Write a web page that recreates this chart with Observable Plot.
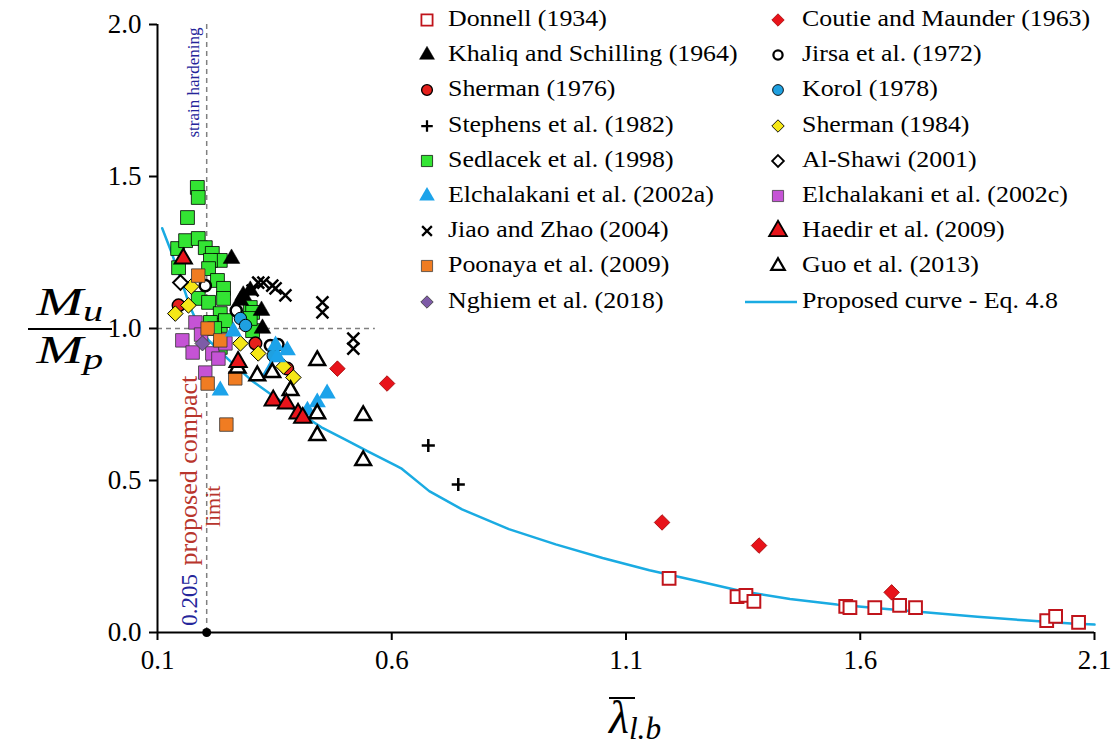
<!DOCTYPE html>
<html><head><meta charset="utf-8">
<script src="https://cdn.jsdelivr.net/npm/d3@7"></script>
<script src="https://cdn.jsdelivr.net/npm/@observablehq/plot@0.6"></script>
<style>
body{margin:0;background:#fff;}
#wrap{position:relative;width:1113px;height:753px;color:#000;overflow:hidden;}
#wrap, #wrap div, #wrap span, #wrap svg, #wrap text{font-family:"Liberation Serif","Times New Roman",serif !important;}
.lt{position:absolute;height:30px;line-height:30px;font-size:22.5px;white-space:nowrap;transform:scaleX(1.15);transform-origin:0 50%;}
.ls{position:absolute;}
.frac{position:absolute;left:28px;width:84px;text-align:center;font-style:italic;font-size:40px;line-height:40px;white-space:nowrap;}
.frac span.in{display:inline-block;transform:scaleX(1.4);transform-origin:50% 50%;}
.frac .sb{font-size:0.72em;position:relative;top:0.22em;}
#fline{position:absolute;left:28px;top:328px;width:84px;height:0;border-top:2px solid #000;}
#xlab{position:absolute;left:609px;top:698px;font-style:italic;font-size:46px;line-height:40px;white-space:nowrap;}
#xlab .sb{font-size:0.68em;position:relative;top:0.2em;line-height:20px;}
#xbar{position:absolute;left:609px;top:697px;width:26px;height:0;border-top:2px solid #000;}
</style></head><body><div id="wrap"></div>
<script>
// ---- data: [lambda, Mu/Mp] ----
const donnell = [[1.192,0.178],[1.337,0.118],[1.356,0.122],[1.373,0.102],[1.569,0.086],[1.578,0.082],[1.631,0.082],[1.684,0.089],[1.718,0.082],[1.998,0.039],[2.017,0.053],[2.066,0.033]];
const coutie = [[0.484,0.868],[0.590,0.819],[1.177,0.362],[1.384,0.286],[1.667,0.132]];
const khaliq = [[0.258,1.230],[0.277,1.092],[0.283,1.109],[0.298,1.125],[0.322,1.059],[0.324,1.000]];
const jirsa = [[0.202,1.141],[0.268,1.059],[0.341,0.944],[0.357,0.947]];
const sherman76 = [[0.145,1.076],[0.309,0.951],[0.377,0.868]];
const korol = [[0.277,1.033],[0.288,1.010],[0.347,0.911]];
const stephens = [[0.678,0.615],[0.742,0.487]];
const sherman84 = [[0.138,1.049],[0.166,1.076],[0.172,1.138],[0.277,0.951],[0.315,0.918],[0.369,0.875],[0.390,0.839]];
const sedlacek = [[0.185,1.464],[0.187,1.431],[0.164,1.365],[0.143,1.263],[0.160,1.289],[0.187,1.296],[0.202,1.266],[0.217,1.247],[0.234,1.224],[0.213,1.224],[0.209,1.197],[0.145,1.200],[0.228,1.158],[0.241,1.132],[0.241,1.099],[0.187,1.099],[0.209,1.086],[0.298,1.069],[0.234,1.049],[0.234,1.010],[0.303,1.053],[0.303,0.993],[0.298,1.033],[0.213,1.020],[0.245,1.026],[0.234,0.938],[0.222,1.000]];
const alshawi = [[0.149,1.151]];
const elch2002a = [[0.234,0.796],[0.262,0.990],[0.341,0.862],[0.352,0.944],[0.356,0.905],[0.377,0.928],[0.420,0.730],[0.441,0.757],[0.462,0.786]];
const elch2002c = [[0.153,0.961],[0.175,0.921],[0.181,1.020],[0.193,0.980],[0.202,0.855],[0.217,0.918],[0.230,0.901],[0.245,0.951]];
const jiao = [[0.303,1.125],[0.315,1.151],[0.326,1.151],[0.345,1.141],[0.352,1.132],[0.373,1.109],[0.452,1.086],[0.452,1.053],[0.518,0.967],[0.518,0.934]];
const haedir = [[0.155,1.230],[0.272,0.890],[0.347,0.763],[0.375,0.753],[0.400,0.720],[0.410,0.706]];
const poonaya = [[0.187,1.174],[0.207,1.000],[0.234,0.961],[0.207,0.819],[0.266,0.836],[0.247,0.684]];
const guo = [[0.271,0.870],[0.313,0.845],[0.345,0.855],[0.384,0.796],[0.441,0.895],[0.441,0.720],[0.441,0.648],[0.539,0.714],[0.539,0.566]];
const nghiem = [[0.196,0.951]];
const curveX = [0.11,0.13,0.15,0.17,0.19,0.21,0.25,0.30,0.35,0.40,0.45,0.50,0.55,0.61,0.62,0.68,0.75,0.85,0.95,1.05,1.15,1.25,1.35,1.45,1.55,1.65,1.75,1.85,1.95,2.05,2.10];
const curveY = [1.33,1.25,1.16,1.07,1.00,0.96,0.90,0.83,0.775,0.725,0.675,0.635,0.595,0.548,0.540,0.465,0.405,0.340,0.290,0.245,0.205,0.170,0.135,0.110,0.092,0.078,0.065,0.052,0.040,0.030,0.026];
const xTicks = [0.1,0.6,1.1,1.6,2.1];
const yTicks = [0,0.5,1.0,1.5,2.0];
const compactLimit = 0.205;
const notes = [
  {text:"strain hardening", x:0.177, y:1.99, anchor:"end", color:"#25259a", size:17},
  {text:"proposed compact", x:0.166, y:0.22, anchor:"start", color:"#b8352c", size:26},
  {text:"limit", x:0.219, y:0.415, anchor:"middle", color:"#b8352c", size:22},
  {text:"0.205", x:0.169, y:0.022, anchor:"start", color:"#25259a", size:23}
];

// ---- series styling ----
const S = [
  {key:"donnell", data:donnell, label:"Donnell (1934)", symbol:"square", fill:"#fff", stroke:"#c0141b", sw:2, r:7.2, lr:6.3, col:0, row:0},
  {key:"coutie", data:coutie, label:"Coutie and Maunder (1963)", symbol:"diamond2", fill:"#e8131a", stroke:"#9b0000", sw:0.8, r:7, lr:5.6, col:1, row:0},
  {key:"khaliq", data:khaliq, label:"Khaliq and Schilling (1964)", symbol:"triangle", fill:"#000", stroke:"#000", sw:0.5, r:6.2, lr:5.6, col:0, row:1},
  {key:"jirsa", data:jirsa, label:"Jirsa et al. (1972)", symbol:"circle", fill:"#fff", stroke:"#000", sw:2.5, r:5.6, lr:4.6, col:1, row:1},
  {key:"sherman76", data:sherman76, label:"Sherman (1976)", symbol:"circle", fill:"#e5201c", stroke:"#000", sw:1.5, r:6.3, lr:5.4, col:0, row:2},
  {key:"korol", data:korol, label:"Korol (1978)", symbol:"circle", fill:"#1fa0e0", stroke:"#000", sw:1, r:6.2, lr:5.4, col:1, row:2},
  {key:"stephens", data:stephens, label:"Stephens et al. (1982)", symbol:"plus", fill:"none", stroke:"#000", sw:2.5, r:4.3, lr:3.8, col:0, row:3},
  {key:"sherman84", data:sherman84, label:"Sherman (1984)", symbol:"diamond2", fill:"#f5e717", stroke:"#000", sw:1, r:7, lr:5.6, col:1, row:3},
  {key:"sedlacek", data:sedlacek, label:"Sedlacek et al. (1998)", symbol:"square", fill:"#33e433", stroke:"#000", sw:0.8, r:7.8, lr:6.3, col:0, row:4},
  {key:"alshawi", data:alshawi, label:"Al-Shawi (2001)", symbol:"diamond2", fill:"#fff", stroke:"#000", sw:2, r:6.6, lr:5.3, col:1, row:4},
  {key:"elch2002a", data:elch2002a, label:"Elchalakani et al. (2002a)", symbol:"triangle", fill:"#1ca3ea", stroke:"none", sw:0, r:6.4, lr:5.8, col:0, row:5},
  {key:"elch2002c", data:elch2002c, label:"Elchalakani et al. (2002c)", symbol:"square", fill:"#c553d5", stroke:"#333", sw:0.8, r:7.6, lr:6.3, col:1, row:5},
  {key:"jiao", data:jiao, label:"Jiao and Zhao (2004)", symbol:"times", fill:"none", stroke:"#000", sw:2.5, r:5.5, lr:4.5, col:0, row:6},
  {key:"haedir", data:haedir, label:"Haedir et al. (2009)", symbol:"triangle", fill:"#e8141b", stroke:"#000", sw:2, r:6.4, lr:6.6, col:1, row:6},
  {key:"poonaya", data:poonaya, label:"Poonaya et al. (2009)", symbol:"square", fill:"#f07c22", stroke:"#333", sw:0.8, r:7.6, lr:6.3, col:0, row:7},
  {key:"guo", data:guo, label:"Guo et al. (2013)", symbol:"triangle", fill:"#fff", stroke:"#000", sw:2.5, r:5.8, lr:5.0, col:1, row:7},
  {key:"nghiem", data:nghiem, label:"Nghiem et al. (2018)", symbol:"diamond2", fill:"#7e5ba7", stroke:"#444", sw:1, r:6.8, lr:5.6, col:0, row:8}
];
const curveColor = "#1aabe2";
const drawOrder = ["sedlacek","donnell","coutie","khaliq","jirsa","sherman76","korol","stephens","sherman84","alshawi","elch2002c","poonaya","nghiem","elch2002a","jiao","guo","haedir"];

const curve = curveX.map((x,i)=>({x, y:curveY[i]}));
const marks = [
  Plot.ruleY([1.0], {x1:0.1, x2:0.565, stroke:"#808080", strokeWidth:1.5, strokeDasharray:"5,4"}),
  Plot.ruleX([compactLimit], {y1:0, y2:2.0, stroke:"#808080", strokeWidth:1.5, strokeDasharray:"5,4"}),
  Plot.line(curve, {x:"x", y:"y", stroke:curveColor, strokeWidth:2.5})
];
for (const k of drawOrder) {
  const s = S.find(d=>d.key===k);
  marks.push(Plot.dot(s.data, {x:d=>d[0], y:d=>d[1], symbol:s.symbol, r:s.r, fill:s.fill, stroke:s.stroke, strokeWidth:s.sw}));
}
for (const n of notes) {
  marks.push(Plot.text([n], {x:"x", y:"y", text:"text", rotate:-90, textAnchor:n.anchor, fill:n.color, fontSize:n.size, fontFamily:"Liberation Serif"}));
}
marks.push(
  Plot.dot([compactLimit], {x:d=>d, y:0, r:4.5, fill:"#000"}),
  Plot.ruleX([0.1], {stroke:"#000", strokeWidth:2}),
  Plot.ruleY([0], {stroke:"#000", strokeWidth:2}),
  Plot.axisX({ticks:xTicks, tickSize:8, tickPadding:9, tickFormat:d3.format(".1f"), strokeWidth:2, fontSize:27, fontFamily:"Liberation Serif", label:null}),
  Plot.axisY({ticks:yTicks, tickSize:8, tickPadding:8, tickFormat:d3.format(".1f"), strokeWidth:2, fontSize:27, fontFamily:"Liberation Serif", label:null})
);

const chart = Plot.plot({
  width:1113, height:753,
  marginLeft:157, marginRight:19, marginTop:24, marginBottom:121,
  x:{domain:[0.1,2.1]}, y:{domain:[0,2.0]},
  style:{fontFamily:"Liberation Serif", fontSize:"27px", color:"#000", background:"#fff"},
  marks
});
const wrap = document.getElementById("wrap");
wrap.appendChild(chart);

// ---- legend (HTML) ----
const symMap = {square:d3.symbolSquare, triangle:d3.symbolTriangle, circle:d3.symbolCircle, plus:d3.symbolPlus, times:d3.symbolTimes, diamond2:d3.symbolDiamond2};
const colSym = [427, 778], colText = [448, 802], row0 = 20, rowStep = 35.2;
function addText(label, left, cy) {
  const t = document.createElement("div");
  t.className = "lt"; t.textContent = label;
  t.style.left = left + "px"; t.style.top = (cy - 16) + "px";
  wrap.appendChild(t);
}
for (const s of S) {
  const cy = row0 + s.row*rowStep, cx = colSym[s.col];
  const svg = d3.create("svg").attr("class","ls").attr("width",24).attr("height",24)
    .style("left",(cx-12)+"px").style("top",(cy-12)+"px");
  svg.append("path").attr("transform","translate(12,12)")
    .attr("d", d3.symbol(symMap[s.symbol], Math.PI*s.lr*s.lr)())
    .attr("fill", s.fill).attr("stroke", s.stroke).attr("stroke-width", Math.max(s.sw*0.9, 0));
  wrap.appendChild(svg.node());
  addText(s.label, colText[s.col], cy);
}
{
  const cy = row0 + 8*rowStep;
  const svg = d3.create("svg").attr("class","ls").attr("width",54).attr("height",10)
    .style("left","745px").style("top",(cy-5)+"px");
  svg.append("line").attr("x1",0).attr("x2",52).attr("y1",5).attr("y2",5).attr("stroke",curveColor).attr("stroke-width",2.5);
  wrap.appendChild(svg.node());
  addText("Proposed curve - Eq. 4.8", colText[1], cy);
}

// ---- axis titles ----
function addDiv(id, cls, html, top) {
  const d = document.createElement("div");
  if (id) d.id = id;
  if (cls) d.className = cls;
  d.innerHTML = html;
  if (top != null) d.style.top = top + "px";
  wrap.appendChild(d);
}
addDiv(null, "frac", '<span class="in">M<span class="sb">u</span></span>', 282);
addDiv("fline", null, "");
addDiv(null, "frac", '<span class="in">M<span class="sb">p</span></span>', 330);
addDiv("xlab", null, 'λ<span class="sb">l.b</span>');
addDiv("xbar", null, "");
</script>
</body></html>
